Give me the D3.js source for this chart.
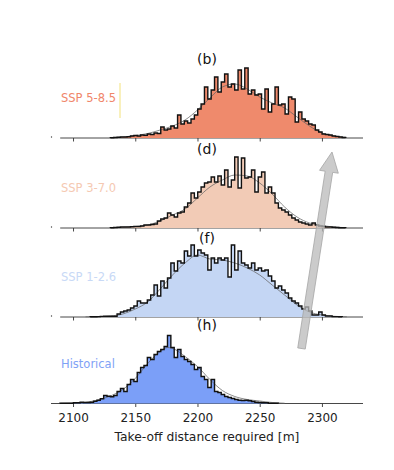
<!DOCTYPE html>
<html>
<head>
<meta charset="utf-8">
<script src="https://cdn.jsdelivr.net/npm/d3@7"></script>
<style>
  body { margin: 0; background: #fff; }
  svg { display: block; font-family: "DejaVu Sans", sans-serif; }
</style>
</head>
<body>
<div id="chart"></div>
<script>
// ---- data (counts, one value per bin) ----
const binWidth = 2.7
const xTicks = [2100, 2150, 2200, 2250, 2300]

const ssp585Start = 2130
const ssp585Counts = [0.3, 0.5, 0.7, 1, 1, 1.3, 2, 2.5, 2, 3, 2.7, 4, 3.5, 5, 4.5, 11, 8, 9, 12, 10,
  23, 14, 17, 15, 19, 23, 29, 34, 51, 39, 48, 61, 46, 56, 64, 51, 54, 48, 68, 49,
  70, 44, 48, 43, 44, 29, 49, 26, 34, 51, 33, 34, 24, 41, 39, 16, 26, 19, 17, 14,
  13, 8, 6, 4, 3.5, 3, 2, 1.5, 1, 0.5]
const ssp585Kde = [[2130, 0.5], [2140, 1], [2150, 2.5], [2160, 4.5], [2170, 8], [2180, 12], [2190, 18],
  [2200, 28], [2210, 40], [2220, 51], [2230, 54], [2240, 49], [2250, 41], [2260, 35], [2270, 30],
  [2280, 21], [2290, 12], [2300, 5], [2310, 2], [2320, 0.5]]

const ssp370Start = 2130
const ssp370Counts = [0.3, 0.5, 0.7, 1, 1, 1, 1.3, 1.5, 1.5, 2, 3, 3, 3.5, 4, 7, 9, 10, 15, 13, 11,
  15, 16, 21, 25, 35, 30, 36, 41, 45, 46, 51, 46, 52, 43, 58, 41, 48, 71, 40, 70,
  50, 51, 58, 36, 51, 56, 35, 41, 35, 25, 20, 18, 16, 13, 10, 8, 6, 5, 4, 3,
  5, 3, 2, 1.5, 1, 1, 0.7, 0.5, 0.3, 0.2]
const ssp370Kde = [[2130, 0.3], [2140, 0.7], [2150, 1.5], [2160, 3], [2170, 7], [2180, 13], [2190, 19],
  [2200, 30], [2210, 41], [2220, 48], [2230, 53], [2240, 52], [2250, 45], [2260, 34], [2270, 21],
  [2280, 11], [2290, 5], [2300, 2.5], [2310, 1], [2320, 0.3]]

const ssp126Start = 2113.8
const ssp126Counts = [0.3, 0.3, 0.4, 0.6, 0.7, 0.7, 0.7, 0.8, 3, 5, 6, 7, 9, 11, 16, 14, 14, 17, 22, 32,
  21, 36, 29, 39, 54, 46, 56, 54, 66, 61, 72, 61, 67, 64, 62, 47, 59, 54, 59, 57,
  59, 40, 72, 47, 66, 54, 52, 49, 54, 47, 49, 46, 47, 41, 36, 29, 31, 27, 24, 19,
  16, 14, 11, 8, 10, 6, 2, 2, 5, 2, 1, 1, 0.4, 0.4, 0.3]
const ssp126Kde = [[2110, 0.2], [2120, 0.3], [2130, 1], [2140, 3], [2150, 8], [2160, 15], [2170, 28],
  [2180, 42], [2190, 54], [2200, 62], [2210, 58], [2220, 57], [2230, 54], [2240, 49], [2250, 42],
  [2260, 32], [2270, 22], [2280, 12], [2290, 5], [2300, 2], [2310, 0.7], [2320, 0.2]]

const histStart = 2089.5
const histCounts = [0.3, 0.3, 0.3, 0.3, 0.7, 0.7, 1.3, 1, 1, 1.3, 2.3, 3.3, 4.7, 8, 7.3, 6.7, 8, 12, 15, 12,
  19, 24, 22, 31, 36, 38, 46, 44, 49, 52, 54, 57, 68, 56, 46, 54, 47, 44, 42, 39,
  34, 36, 27, 24, 16, 24, 12, 11, 9, 7, 6, 5, 4, 3.3, 3, 3.3, 2.7, 2, 1.3, 1,
  0.7, 0.7, 0.3, 0.3, 0.3]
const histKde = [[2090, 0.2], [2100, 0.5], [2110, 1.2], [2120, 3.5], [2130, 7.5], [2140, 14], [2150, 25],
  [2160, 40], [2170, 52], [2176, 56], [2182, 54], [2190, 47], [2200, 37], [2210, 24], [2220, 13],
  [2230, 7], [2240, 4], [2250, 2.5], [2260, 1], [2270, 0.3]]

const panelTitles = ["(b)", "(d)", "(f)", "(h)"]
const scenarioLabels = ["SSP 5-8.5", "SSP 3-7.0", "SSP 1-2.6", "Historical"]
const fillColors = ["#ef8a6c", "#f2cbb6", "#c4d6f4", "#7b9ff8"]
const labelColors = ["#f0866a", "#f5c9b2", "#c8d9f6", "#7fa2f6"]

const panels = [
  { start: ssp585Start, counts: ssp585Counts, kde: ssp585Kde },
  { start: ssp370Start, counts: ssp370Counts, kde: ssp370Kde },
  { start: ssp126Start, counts: ssp126Counts, kde: ssp126Kde },
  { start: histStart, counts: histCounts, kde: histKde }
]

// ---- layout ----
const W = 394, H = 470
const baselines = [138, 228, 317, 403.5]
const panelH = 80

const svg = d3.select("#chart").append("svg").attr("width", W).attr("height", H)
svg.append("rect").attr("width", W).attr("height", H).attr("fill", "#fff")

const x = d3.scaleLinear().domain([2082.3, 2333]).range([51, 363])

panels.forEach((p, i) => {
  const base = baselines[i]
  const y = d3.scaleLinear().domain([0, panelH]).range([base, base - panelH])
  const g = svg.append("g")

  // step points: edge_k with count_k, closing at 0
  const pts = [[p.start, 0]]
  p.counts.forEach((c, k) => pts.push([p.start + k * binWidth, c]))
  pts.push([p.start + p.counts.length * binWidth, 0])

  // spine
  const spineStart = i === 3 ? 2082.3 : 2089.7
  g.append("line")
    .attr("x1", x(spineStart)).attr("x2", x(2333))
    .attr("y1", base).attr("y2", base)
    .attr("stroke", "#333").attr("stroke-width", 0.9)

  // ticks
  const axis = d3.axisBottom(x).tickValues(xTicks).tickSize(3.5).tickPadding(6.5)
    .tickFormat(i < 3 ? "" : d3.format("d"))
  const ax = g.append("g").attr("transform", `translate(0,${base})`).call(axis)
  ax.select(".domain").remove()
  ax.selectAll(".tick line").attr("stroke", "#333").attr("stroke-width", 0.9)
  ax.selectAll(".tick text").attr("font-size", 12).attr("fill", "#222")
    .attr("font-family", "DejaVu Sans, sans-serif")

  if (i < 3) {
    g.append("circle").attr("cx", 51.5).attr("cy", base - 1).attr("r", 0.7).attr("fill", "#444")
  }

  g.append("path")
    .datum(pts)
    .attr("d", d3.area().curve(d3.curveStepAfter)
      .x(d => x(d[0])).y0(base).y1(d => y(d[1])))
    .attr("fill", fillColors[i])

  g.append("path")
    .datum(p.kde)
    .attr("d", d3.line().curve(d3.curveMonotoneX).x(d => x(d[0])).y(d => y(d[1])))
    .attr("fill", "none").attr("stroke", "#666").attr("stroke-width", 1).attr("opacity", 0.75)

  g.append("path")
    .datum(pts)
    .attr("d", d3.line().curve(d3.curveStepAfter).x(d => x(d[0])).y(d => y(d[1])))
    .attr("fill", "none").attr("stroke", "#111").attr("stroke-width", 1.4)
    .attr("stroke-linejoin", "miter")

  g.append("text")
    .attr("x", 207).attr("y", base - 74)
    .attr("text-anchor", "middle").attr("font-size", 14).attr("fill", "#111")
    .text(panelTitles[i])

  g.append("text")
    .attr("x", 61).attr("y", base - 40)
    .attr("dominant-baseline", "central").attr("font-size", 11.5)
    .attr("fill", labelColors[i])
    .text(scenarioLabels[i])
})

// odd little yellow mark next to the top label
svg.append("line")
  .attr("x1", 120).attr("x2", 120).attr("y1", baselines[0] - 55).attr("y2", baselines[0] - 20)
  .attr("stroke", "#f3e27a").attr("stroke-width", 1)

svg.append("text")
  .attr("x", 207).attr("y", 440.5)
  .attr("text-anchor", "middle").attr("font-size", 12.3).attr("fill", "#222")
  .text("Take-off distance required [m]")

// grey trend arrow
const tail = [301.5, 348.5], tip = [332, 152]
const dx = tip[0] - tail[0], dy = tip[1] - tail[1]
const len = Math.hypot(dx, dy)
const ux = dx / len, uy = dy / len, nx = -uy, ny = ux
const shaftW = 3.8, headW = 9.5, headL = 20
const hb = [tip[0] - ux * headL, tip[1] - uy * headL]
const arrowPts = [
  [tail[0] + nx * shaftW, tail[1] + ny * shaftW],
  [hb[0] + nx * shaftW, hb[1] + ny * shaftW],
  [hb[0] + nx * headW, hb[1] + ny * headW],
  tip,
  [hb[0] - nx * headW, hb[1] - ny * headW],
  [hb[0] - nx * shaftW, hb[1] - ny * shaftW],
  [tail[0] - nx * shaftW, tail[1] - ny * shaftW]
]
svg.append("path")
  .attr("d", d3.line()(arrowPts) + "Z")
  .attr("fill", "#b9b9b9").attr("fill-opacity", 0.75)
  .attr("stroke", "#a5a5a5").attr("stroke-width", 0.8)
</script>
</body>
</html>
